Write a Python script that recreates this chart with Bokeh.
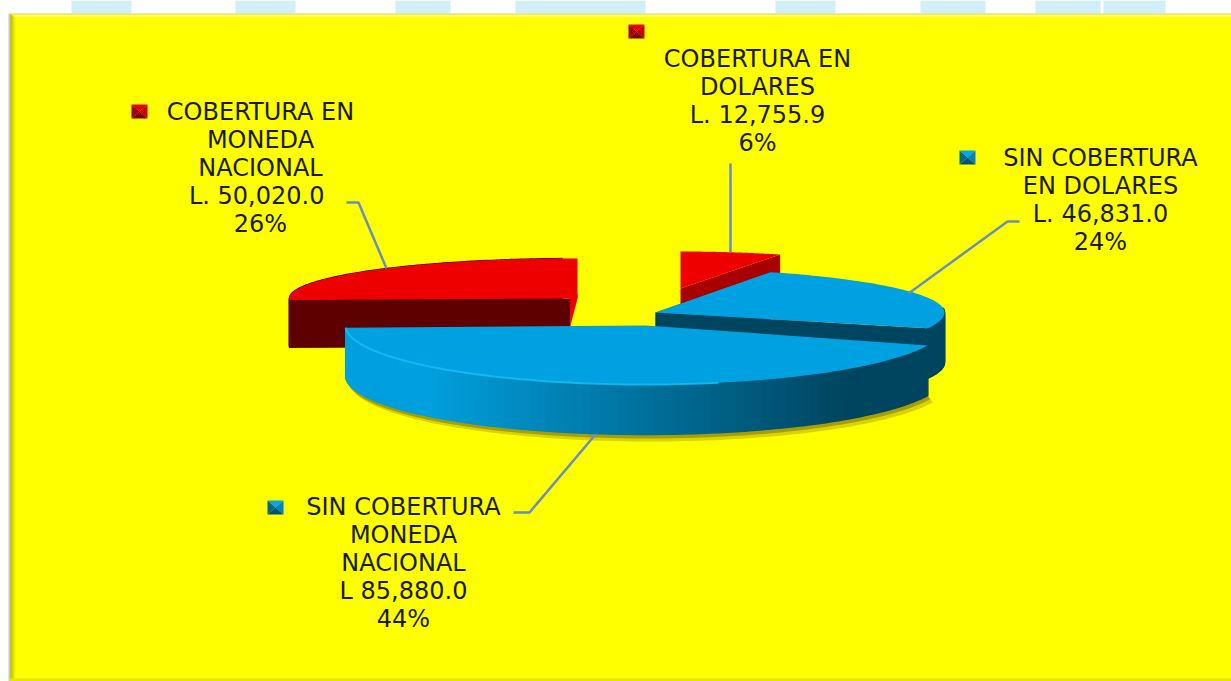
import math
from bokeh.plotting import figure
from bokeh.embed import file_html
from bokeh.resources import INLINE
from bokeh.core.properties import value

# ---- data
categories = ["COBERTURA EN DOLARES", "SIN COBERTURA EN DOLARES",
              "SIN COBERTURA MONEDA NACIONAL", "COBERTURA EN MONEDA NACIONAL"]
amounts = [12755.9, 46831.0, 85880.0, 50020.0]
label_lines = [
    ["COBERTURA EN", "DOLARES", "L. 12,755.9", "6%"],
    ["SIN COBERTURA", "EN DOLARES", "L. 46,831.0", "24%"],
    ["SIN COBERTURA", "MONEDA", "NACIONAL", "L 85,880.0", "44%"],
    ["COBERTURA EN", "MONEDA", "NACIONAL", "L.  50,020.0", "26%"],
]

# ---- layout / style (page pixels of the 3D projection)
W, H = 1231, 681
X0, Y0 = 0, 0
FONT = "DejaVu Sans"
FS = "24px"
YEL = "#ffff00"
# apex x, apex y, rx, ry far, ry near, depth
geom = [
    (680, 288, 250, 37, 37, 45),
    (655, 312, 289, 44, 47, 50),
    (645, 325, 300, 50, 59, 50),
    (577, 298, 288, 40, 40, 48),
]
tops = ["#ee0000", "#00a1e0", "#00a1e0", "#ee0000"]
cuts = ["#a80000", "#004560", "#004560", "#5f0000"]
label_pos = [(757, 58), (1100, 157), (403, 506), (260, 111)]
marker_pos = [(636, 31), (967, 157), (275, 507), (139, 111)]
leaders = [
    ([730, 730], [163, 252]),
    ([1019, 1007, 908], [221, 221, 293]),
    ([513, 529, 595], [512, 512, 434]),
    ([346, 358, 386], [202, 202, 268]),
]
LINE_H = 28
stripes = [(71, 131), (235, 295), (395, 450), (515, 645), (775, 835),
           (920, 985), (1035, 1100), (1103, 1165)]

p = figure(width=W, height=H, x_range=(X0, X0 + W), y_range=(Y0 + H, Y0),
           output_backend="svg", toolbar_location=None, min_border=0)
p.axis.visible = False
p.grid.visible = False
p.outline_line_color = None
p.background_fill_color = "white"
p.border_fill_color = "white"

# page backdrop strip
p.quad(left=[a for a, _ in stripes], right=[b for _, b in stripes],
       top=[Y0] * len(stripes), bottom=[13] * len(stripes),
       fill_color="#d2eefa", line_color=None)

# yellow panel with bevel
R, B = X0 + W, Y0 + H
p.quad(left=[9], right=[R], top=[13], bottom=[B], fill_color=YEL, line_color=None)
p.quad(left=[8], right=[10], top=[13], bottom=[B], fill_color="#c9c9b8", line_color=None)
for i, c in enumerate(["#a8a800", "#b8b800", "#cccc00", "#e0e000", "#f2f200"]):
    p.quad(left=[10 + i], right=[11 + i], top=[14 + i], bottom=[B], fill_color=c, line_color=None)
p.line([9, R], [13.5, 13.5], line_color="#d8d8c0", line_width=1)
p.line([14, R], [15.5, 15.5], line_color="#ffff66", line_width=2)
p.quad(left=[9], right=[R], top=[678], bottom=[B], fill_color="#e6e600", line_color=None)


def pt(g, a):
    """Point on the rim of a slice at clock angle a (degrees)."""
    ax, ay, rx, rf, rn, _ = g
    s, c = math.sin(math.radians(a)), math.cos(math.radians(a))
    return ax + rx * s, ay - c * (rf if c > 0 else rn)


def blend(c1, c2, t):
    a = [int(c1[i:i + 2], 16) for i in (1, 3, 5)]
    b = [int(c2[i:i + 2], 16) for i in (1, 3, 5)]
    return "#%02x%02x%02x" % tuple(round(u + (v - u) * t) for u, v in zip(a, b))


total = sum(amounts)
spans, start = [], 0.0
for v in amounts:
    spans.append((start, start + v / total * 360))
    start = spans[-1][1]

# draw order: back slices first
for idx in (3, 0, 1, 2):
    g, (a0, a1) = geom[idx], spans[idx]
    ax, ay, rx, rf, rn, d = g
    n = 90
    angs = [a0 + (a1 - a0) * k / n for k in range(n + 1)]
    rim = [pt(g, a) for a in angs]

    # soft ground shadow
    if idx == 2:
        for off, col in ((7, "#d8d400"), (4, "#a5a000")):
            sx = [x + off - 2 for x, y in rim] + [rim[0][0]]
            sy = [y + d + off for x, y in rim] + [rim[0][1] + d]
            p.patch(sx, sy, fill_color=col, line_color=None)
    if idx == 1:
        xs = [x + 2 for x, y in rim[:30]]
        ys = [y + d + 6 for x, y in rim[:30]]
        p.patch(xs + xs[::-1], ys + [y - 10 for y in ys[::-1]], fill_color="#a5a000", line_color=None)

    # cut faces
    if idx == 0:
        e = rim[-1]
        p.patch([ax, ax, e[0], e[0]], [ay, ay + d, e[1] + d, e[1]], fill_color=cuts[idx], line_color=None)
    if idx == 1:
        s, e = rim[0], rim[-1]
        p.patch([ax, s[0], s[0], ax], [ay, s[1], s[1] + d, ay + d], fill_color="#0079a8", line_color=None)
        p.patch([ax, e[0], e[0], ax], [ay, e[1], e[1] + d, ay + d], fill_color=cuts[idx], line_color=None)

    # outer wall as shaded strips
    for k in range(n):
        if idx == 3 and rim[k][0] > ax - 20:
            continue
        if idx != 3 and rim[k][1] <= ay - 5:
            continue
        if idx in (1, 2):
            t = min(1.0, max(0.0, (rim[k][0] - 430) / 420.0))
            col = blend("#009fdd", "#004560", t)
        else:
            col = "#5f0000"
        p.patch([rim[k][0], rim[k + 1][0], rim[k + 1][0], rim[k][0]],
                [rim[k][1], rim[k + 1][1], rim[k + 1][1] + d, rim[k][1] + d],
                fill_color=col, line_color=col, line_width=1.4)

    if idx == 3:
        s, e = rim[0], rim[-1]
        p.patch([s[0], ax - 7, ax - 7, s[0]], [s[1], ay, ay + d, s[1] + d],
                fill_color=cuts[idx], line_color=None)
        p.patch([ax - 8, ax, ax, ax - 7], [ay - 4, ay - 4, ay, ay + 27], fill_color="#e80000", line_color=None)

    # top surface
    tx = [ax] + [q[0] for q in rim]
    ty = [ay] + [q[1] for q in rim]
    p.patch(tx, ty, fill_color=tops[idx], line_color=None)
    if idx == 2:
        vis = [q for q in rim if q[0] < 720]
        p.line([q[0] for q in vis], [q[1] for q in vis], line_color="#14bdf5", line_width=2, line_alpha=0.9)

# leader lines
for xs, ys in leaders:
    p.line(xs, ys, line_color="#6a8fbc", line_width=2.5)

# legend-key markers with pyramid shading
for idx, (mx, my) in enumerate(marker_pos):
    hw, hh = 8, 7
    red = idx in (0, 3)
    cols = ["#e00000", "#c40000", "#7a0000", "#a00000"] if red else ["#00a8e8", "#0086b8", "#004f74", "#006690"]
    cnr = [(mx - hw, my - hh), (mx + hw, my - hh), (mx + hw, my + hh), (mx - hw, my + hh)]
    for j, col in enumerate(cols):
        q0, q1 = cnr[j], cnr[(j + 1) % 4]
        p.patch([q0[0], q1[0], mx], [q0[1], q1[1], my], fill_color=col, line_color=None)

# labels
for idx, lines in enumerate(label_lines):
    lx, ly = label_pos[idx]
    ys = [ly + k * LINE_H for k in range(len(lines))]
    p.text([lx] * len(lines), ys, text=lines, text_font=value(FONT), text_font_size=value(FS),
           text_align="center", text_baseline="middle", text_color="#1a1a00")

html = file_html(p, INLINE, title="Cobertura")
open("out.html", "w").write(html)
